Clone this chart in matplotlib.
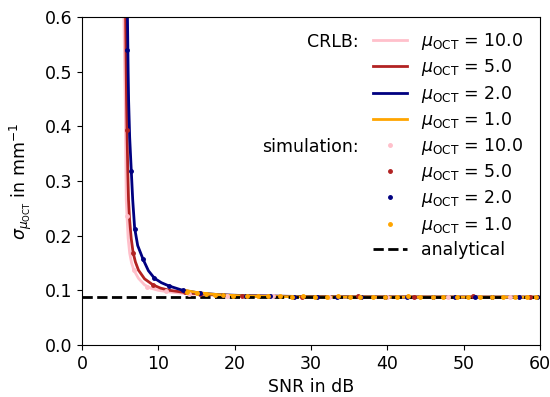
import numpy as np
import matplotlib
matplotlib.use('Agg')
import matplotlib.pyplot as plt

# CRLB curves (SNR in dB, sigma in 1/mm)
snr_crlb_10 = [5.5, 5.58, 5.67, 5.75, 5.8, 5.9, 6.05, 6.25, 6.5, 6.8, 7.4, 8.2, 9.0, 10.0,
               11.5, 13.5, 16, 20, 25, 35, 45, 60]
sig_crlb_10 = [0.60, 0.52, 0.448, 0.33, 0.265, 0.236, 0.195, 0.168, 0.150, 0.137, 0.122,
               0.110, 0.104, 0.100, 0.097, 0.094, 0.092, 0.090, 0.089, 0.088, 0.0877, 0.0875]

snr_crlb_5 = [5.72, 5.78, 5.84, 5.9, 6.0, 6.1, 6.24, 6.45, 6.7, 7.0, 7.4, 8.2, 9.3, 10.3,
              11.5, 14, 17, 21, 27, 35, 45, 60]
sig_crlb_5 = [0.60, 0.52, 0.448, 0.393, 0.32, 0.265, 0.229, 0.195, 0.169, 0.152, 0.137,
              0.121, 0.110, 0.104, 0.100, 0.095, 0.092, 0.090, 0.089, 0.088, 0.0877, 0.0875]

snr_crlb_2 = [5.96, 6.05, 6.11, 6.25, 6.46, 6.65, 6.9, 7.3, 8.0, 8.7, 9.5, 10.4, 11.4, 13.2,
              15.5, 18, 22, 27, 35, 45, 60]
sig_crlb_2 = [0.60, 0.50, 0.448, 0.38, 0.319, 0.265, 0.214, 0.182, 0.157, 0.136, 0.122,
              0.114, 0.108, 0.100, 0.095, 0.092, 0.090, 0.089, 0.088, 0.0877, 0.0875]

snr_crlb_1 = [13.5, 15, 17, 19, 22, 26, 30, 40, 50, 60]
sig_crlb_1 = [0.100, 0.096, 0.093, 0.091, 0.0895, 0.0885, 0.088, 0.0877, 0.0876, 0.0875]

# simulation points
snr_sim_10 = [5.9, 6.8, 8.5, 11.0, 14.0, 19.0, 25.0, 32.4, 40.0, 48.0, 56.0]
sig_sim_10 = [0.236, 0.137, 0.107, 0.098, 0.094, 0.090, 0.089, 0.088, 0.088, 0.0875, 0.088]

snr_sim_5 = [5.9, 6.7, 9.3, 13.5, 15.5, 21.0, 28.8, 36.2, 43.5, 51.2, 58.7]
sig_sim_5 = [0.393, 0.169, 0.110, 0.097, 0.094, 0.090, 0.088, 0.089, 0.088, 0.089, 0.088]

snr_sim_2 = [5.95, 6.46, 6.9, 8.0, 9.5, 11.4, 13.2, 15.5, 18.5, 21.5, 24.6, 27.8, 30.8,
             33.4, 36.5, 39.7, 42.6, 46.0, 48.9, 51.5, 53.7, 57.3, 59.6]
sig_sim_2 = [0.54, 0.319, 0.212, 0.157, 0.122, 0.108, 0.100, 0.096, 0.092, 0.090, 0.089,
             0.088, 0.088, 0.0885, 0.088, 0.088, 0.0875, 0.088, 0.0885, 0.088, 0.088,
             0.0875, 0.088]

snr_sim_1 = [13.8, 15.1, 16.2, 17.4, 18.5, 19.8, 21.6, 23.1, 24.4, 26.0, 27.5, 29.0, 30.5,
             32.1, 33.5, 35.1, 36.4, 38.1, 39.7, 41.3, 42.7, 44.3, 46.0, 47.3, 49.1, 50.6,
             52.1, 53.7, 55.2, 56.7, 58.3, 59.4]
sig_sim_1 = [0.097, 0.095, 0.094, 0.092, 0.091, 0.0905, 0.090, 0.089, 0.0895, 0.089, 0.0885,
             0.089, 0.088, 0.0885, 0.089, 0.088, 0.0885, 0.088, 0.0885, 0.088, 0.089, 0.088,
             0.0885, 0.088, 0.0885, 0.088, 0.0885, 0.088, 0.0885, 0.088, 0.0885, 0.088]

sig_analytical = 0.0875
mu_labels = ['10.0', '5.0', '2.0', '1.0']
colors = ['pink', 'firebrick', 'navy', 'orange']

plt.rcParams['font.size'] = 12.5
fig = plt.figure(figsize=(5.5, 3.97), dpi=100)
ax = fig.add_axes([0.149, 0.131, 0.833, 0.826])

crlb = [(snr_crlb_10, sig_crlb_10), (snr_crlb_5, sig_crlb_5),
        (snr_crlb_2, sig_crlb_2), (snr_crlb_1, sig_crlb_1)]
sims = [(snr_sim_10, sig_sim_10), (snr_sim_5, sig_sim_5),
        (snr_sim_2, sig_sim_2), (snr_sim_1, sig_sim_1)]

handles = []
for (x, y), c, m in zip(crlb, colors, mu_labels):
    h, = ax.plot(x, y, color=c, lw=2, label=r'$\mu_{\mathrm{OCT}}$ = ' + m)
    handles.append(h)
h_an = ax.axhline(sig_analytical, color='k', ls='--', lw=2, label='analytical')
for (x, y), c, m in zip(sims, colors, mu_labels):
    h, = ax.plot(x, y, '.', color=c, ms=5, label=r'$\mu_{\mathrm{OCT}}$ = ' + m)
    handles.append(h)
handles.append(h_an)

ax.set_xlim(0, 60)
ax.set_ylim(0, 0.6)
ax.set_xlabel('SNR in dB')
ax.set_ylabel(r'$\sigma_{\mu_{\mathrm{OCT}}}$ in mm$^{-1}$', labelpad=7.5)

leg = ax.legend(handles=handles, loc='upper right', frameon=False,
                bbox_to_anchor=(0.989, 0.994), labelspacing=0.3,
                borderaxespad=0.3, handletextpad=0.75)

# group labels to the left of the legend rows
fig.canvas.draw()
texts = leg.get_texts()
inv = ax.transAxes.inverted()
for i, lab in [(0, 'CRLB:'), (4, 'simulation:')]:
    bb = texts[i].get_window_extent()
    x0, y0 = inv.transform((bb.x0 - 62, (bb.y0 + bb.y1) / 2))
    ax.text(x0, y0, lab, transform=ax.transAxes, ha='right', va='center')

fig.savefig('out.png')
